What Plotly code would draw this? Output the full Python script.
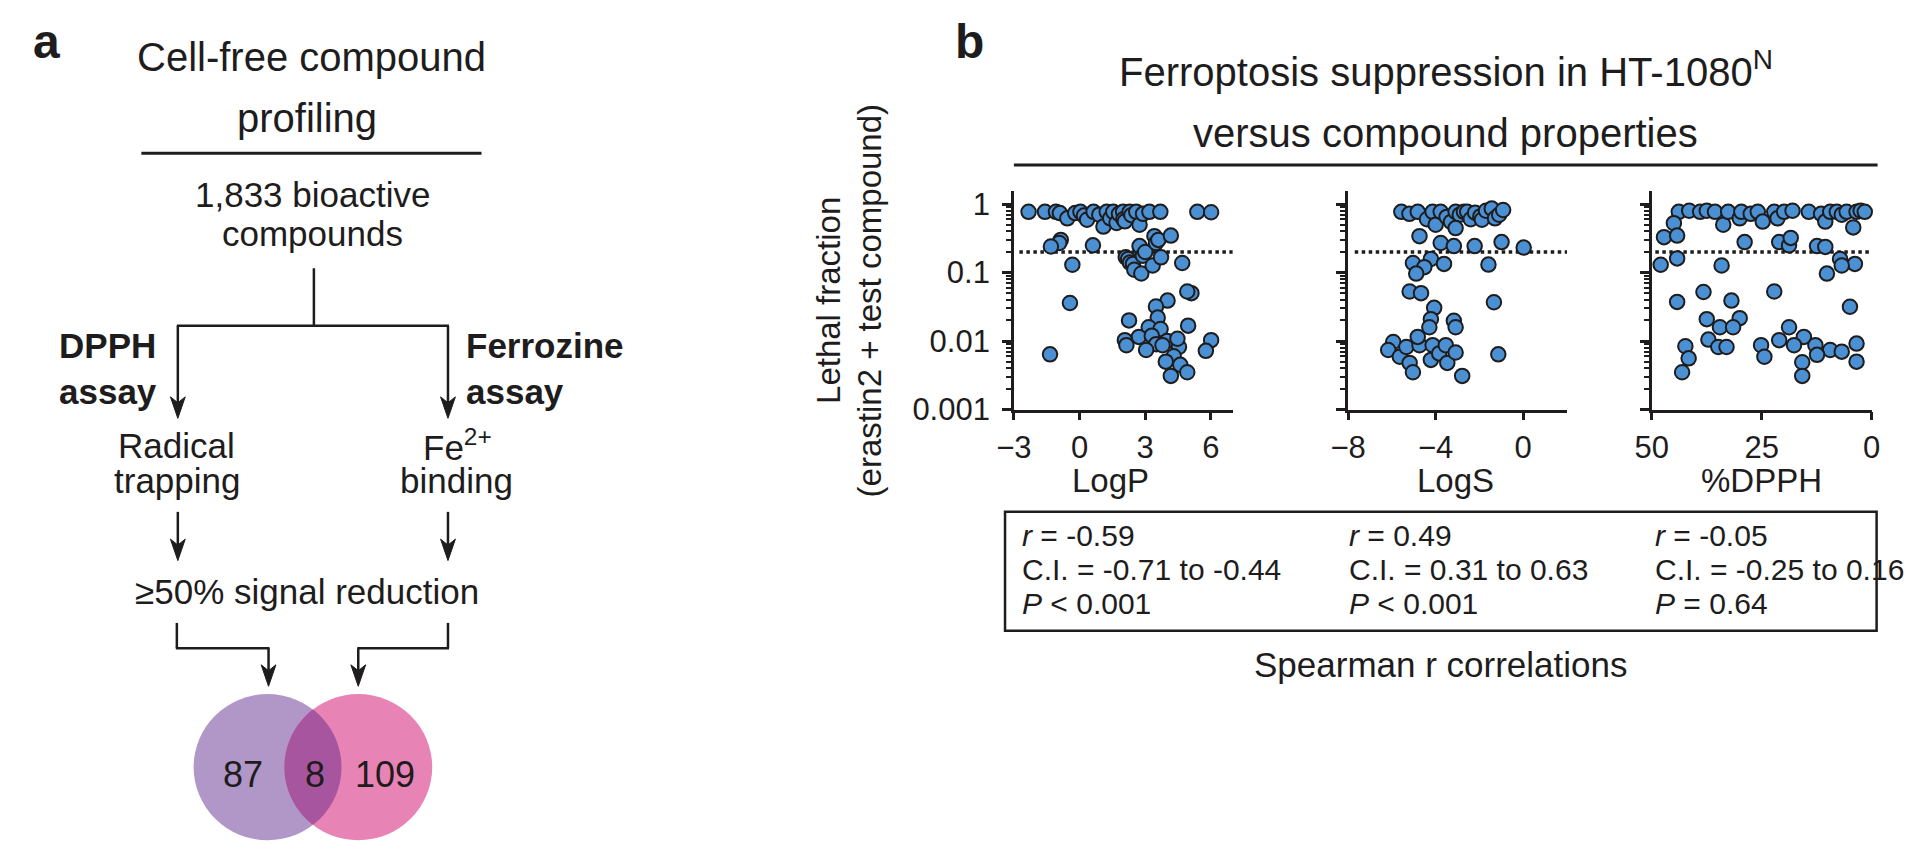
import numpy as np
import plotly.graph_objects as go

W, H = 1920, 859
INK = "#1e1c1d"
BLUE = "#4a90d2"
FONT = "Liberation Sans, Arial, Helvetica, sans-serif"

# ---------------- data ----------------
logp_x = [-2.33, -1.58, -1.08, -0.90, -0.56, -0.20, 0.04, 0.20, 0.34, 0.64, 0.90, 1.09, 1.24, 1.40,
          1.54, 1.69, 1.80, 1.99, 2.00, 2.07, 2.29, 2.37, 2.59, 2.74, 2.90, 3.19, 3.69, 5.38, 6.01,
          -0.86, -0.93, -1.31, 0.61, -0.33, -0.44, -1.35, 2.11, 2.22, 2.30, 2.44, 2.50, 2.74, 2.82,
          2.89, 3.00, 3.34, 3.42, 3.49, 3.60, 3.72, 4.17, 4.69,
          4.02, 3.49, 3.57, 2.26, 3.16, 3.70, 4.96, 5.11, 4.92, 2.71, 3.30, 2.07, 4.00, 2.14, 3.50,
          3.04, 3.79, 4.54, 4.47, 4.30, 3.94, 4.60, 4.17, 4.92, 6.01, 5.77]
logp_y = [0.77, 0.77, 0.77, 0.74, 0.62, 0.74, 0.77, 0.68, 0.59, 0.77, 0.70, 0.47, 0.77, 0.62,
          0.77, 0.53, 0.72, 0.77, 0.60, 0.56, 0.77, 0.69, 0.77, 0.50, 0.72, 0.77, 0.77, 0.77, 0.76,
          0.30, 0.27, 0.24, 0.25, 0.13, 0.036, 0.0064, 0.167, 0.158, 0.14, 0.134, 0.11, 0.244, 0.097,
          0.176, 0.20, 0.127, 0.34, 0.27, 0.30, 0.167, 0.347, 0.138,
          0.039, 0.032, 0.022, 0.020, 0.0159, 0.015, 0.0168, 0.050, 0.053, 0.0115, 0.012, 0.0103, 0.010, 0.0087, 0.009,
          0.0074, 0.0087, 0.0082, 0.0108, 0.006, 0.0050, 0.0045, 0.0031, 0.0035, 0.0103, 0.0072]

logs_x = [-5.57, -5.20, -4.82, -4.40, -4.14, -4.00, -3.77, -3.50, -3.30, -3.09, -2.90, -2.71, -2.56,
          -2.40, -2.20, -1.96, -1.89, -1.70, -1.44, -1.29, -1.10, -0.92, -4.74, -3.09, -3.77, -3.17,
          -2.22, -0.99, 0.02,
          -4.22, -5.04, -3.62, -4.52, -4.89, -1.59, -1.34, -1.14,
          -5.19, -4.67, -4.07, -4.22, -4.29, -3.17, -3.09, -5.94, -6.17, -5.64, -5.34, -5.19, -5.04,
          -4.74, -4.82, -4.14, -4.22, -3.84, -3.54, -3.47, -3.09, -2.79]
logs_y = [0.77, 0.72, 0.77, 0.60, 0.77, 0.50, 0.77, 0.65, 0.55, 0.77, 0.70, 0.77, 0.77,
          0.60, 0.75, 0.66, 0.59, 0.80, 0.86, 0.62, 0.70, 0.82, 0.34, 0.447, 0.27, 0.244,
          0.244, 0.279, 0.232,
          0.158, 0.138, 0.134, 0.12, 0.0966, 0.131, 0.0369, 0.0064,
          0.053, 0.050, 0.0306, 0.0209, 0.0159, 0.0198, 0.0159, 0.0097, 0.0074, 0.0059, 0.0082, 0.0048, 0.0035,
          0.0087, 0.0115, 0.0087, 0.0053, 0.0066, 0.0087, 0.0048, 0.0068, 0.0031]

dpph_x = [43.86, 41.5, 39.0, 37.5, 35.63, 33.76, 32.63, 30.01, 29.64, 27.5, 25.90, 24.78, 22.16, 21.41,
          19.91, 18.0, 14.30, 11.5, 10.55, 9.43, 7.93, 6.8, 5.69, 4.19, 3.44, 2.5, 1.57, 44.98,
          47.23, 44.24, 28.89, 21.03, 18.79, 18.41, 12.43, 10.55, 44.24, 47.98, 34.13, 7.19, 3.82, 10.18, 6.81,
          38.25, 22.16, 44.24, 31.89, 4.94, 37.50, 30.01, 34.51, 31.51, 37.13, 34.88, 33.01, 18.79, 21.03,
          25.15, 24.40, 15.42, 17.66, 12.80, 9.43, 6.81, 3.44, 3.44, 12.43, 15.79, 15.79, 42.37, 41.62, 43.11]
dpph_y = [0.77, 0.80, 0.77, 0.80, 0.77, 0.50, 0.77, 0.62, 0.77, 0.72, 0.77, 0.555, 0.77, 0.62,
          0.77, 0.80, 0.77, 0.72, 0.555, 0.77, 0.77, 0.70, 0.77, 0.456, 0.77, 0.80, 0.77, 0.526,
          0.329, 0.347, 0.279, 0.279, 0.250, 0.321, 0.244, 0.237, 0.161, 0.130, 0.127, 0.158, 0.134, 0.0966, 0.127,
          0.052, 0.053, 0.0373, 0.039, 0.0317, 0.0209, 0.0216, 0.0159, 0.0159, 0.0105, 0.0082, 0.0082, 0.0159, 0.0103,
          0.0087, 0.0059, 0.0115, 0.0087, 0.0087, 0.0074, 0.0070, 0.0092, 0.0050, 0.0063, 0.0049, 0.0031, 0.0084, 0.0056, 0.0035]

threshold = 0.2
logp_ticks = [-3, 0, 3, 6]
logs_ticks = [-8, -4, 0]
dpph_ticks = [50, 25, 0]
y_ticks = [0.001, 0.01, 0.1, 1]
y_ticklabels = ["0.001", "0.01", "0.1", "1"]
x_titles = ["LogP", "LogS", "%DPPH"]

stat_r = ["-0.59", "0.49", "-0.05"]
stat_ci = ["-0.71 to -0.44", "0.31 to 0.63", "-0.25 to 0.16"]
stat_p = ["&lt; 0.001", "&lt; 0.001", "= 0.64"]

venn_counts = ["87", "8", "109"]


# ---------------- helpers (pixel -> paper) ----------------
def X(px):
    return px / W


def Y(py):
    return 1 - py / H


annotations = []
shapes = []


def text(px, baseline, s, size, bold=False, anchor="center", angle=0, center=None, align="center"):
    cy = baseline - 0.35 * size if center is None else center
    annotations.append(dict(
        x=X(px), y=Y(cy), xref="paper", yref="paper", text=("<b>%s</b>" % s) if bold else s,
        showarrow=False, xanchor=anchor, yanchor="middle", textangle=angle, align=align,
        font=dict(size=size, color=INK, family=FONT)))


def line(x0, y0, x1, y1, w=2.5):
    shapes.append(dict(type="line", xref="paper", yref="paper", x0=X(x0), y0=Y(y0), x1=X(x1), y1=Y(y1),
                       line=dict(color=INK, width=w)))


def arrow_down(px, top, tip, w=2.5):
    head = 22
    half = 7.5
    line(px, top, px, tip - head + 6, w)
    path = "M %f %f L %f %f L %f %f L %f %f Z" % (
        X(px), Y(tip), X(px - half), Y(tip - head), X(px), Y(tip - head + 6), X(px + half), Y(tip - head))
    shapes.append(dict(type="path", xref="paper", yref="paper", path=path, fillcolor=INK,
                       line=dict(color=INK, width=1)))


# ---------------- panel a ----------------
text(21, 47, "a", 48, bold=True)
text(290, 60, "Cell-free compound", 40)
text(285, 123, "profiling", 40)
line(117, 145, 462, 145, 3)
text(291, 200, "1,833 bioactive", 35)
text(291, 240, "compounds", 35)
line(292, 263, 292, 322)
line(153, 322, 429, 322)
arrow_down(154, 322, 417)
arrow_down(428, 322, 417)
text(135, 0, "DPPH<br>assay", 35, bold=True, anchor="right", align="right", center=366)
text(444, 0, "Ferrozine<br>assay", 35, bold=True, anchor="left", align="left", center=366)
text(153, 457, "Radical", 35)
text(153, 493, "trapping", 35)
text(438, 457, "Fe<sup>2+</sup>", 35)
text(437, 493, "binding", 35)
arrow_down(154, 513, 563)
arrow_down(428, 513, 563)
text(285, 607, "≥50% signal reduction", 35)
line(153, 627, 153, 653)
line(152, 653, 247, 653)
arrow_down(246, 653, 692)
line(428, 627, 428, 653)
line(429, 653, 336, 653)
arrow_down(337, 653, 692)

# Venn
c1, c2, cy, R = 245.0, 337.0, 775.0, 75.0
shapes.append(dict(type="circle", xref="paper", yref="paper", x0=X(c1 - R), x1=X(c1 + R), y0=Y(cy + R),
                   y1=Y(cy - R), fillcolor="#b197c8", line=dict(width=0), layer="above"))
shapes.append(dict(type="circle", xref="paper", yref="paper", x0=X(c2 - R), x1=X(c2 + R), y0=Y(cy + R),
                   y1=Y(cy - R), fillcolor="#e883b5", line=dict(width=0), layer="above"))
d = c2 - c1
ang = np.degrees(np.arccos((d / 2) / R))
t_right = np.radians(np.linspace(180 - ang, 180 + ang, 60))   # arc of right circle (left side of lens)
t_left = np.radians(np.linspace(ang, -ang, 60))                # arc of left circle (right side of lens)
pts = [(c2 + R * np.cos(t), cy - R * np.sin(t)) for t in t_right] + \
      [(c1 + R * np.cos(t), cy - R * np.sin(t)) for t in t_left]
lens = "M " + " L ".join("%f %f" % (X(px), Y(py)) for px, py in pts) + " Z"
shapes.append(dict(type="path", xref="paper", yref="paper", path=lens, fillcolor="#a8559f",
                   line=dict(width=0), layer="above"))
text(220, 795, venn_counts[0], 36)
text(293, 795, venn_counts[1], 36)
text(364, 795, venn_counts[2], 36)

# ---------------- panel b ----------------
text(957, 47, "b", 48, bold=True)
text(1440, 73, "Ferroptosis suppression in HT-1080<sup>N</sup>", 40)
text(1440, 138, "versus compound properties", 40)
line(1002, 157, 1878, 157, 3)

text(0, 0, "Lethal fraction", 33, angle=-90, center=296)
annotations[-1]["x"] = X(814)
text(0, 0, "(erastin2 + test compound)", 33, angle=-90, center=296)
annotations[-1]["x"] = X(855)

fig = go.Figure()

panels = [
    ("x", "y", logp_x, logp_y, [-3, 7], logp_ticks, (1002, 1224), [-2.75, 7]),
    ("x2", "y2", logs_x, logs_y, [-8, 2], logs_ticks, (1341, 1563), [-7.7, 2]),
    ("x3", "y3", dpph_x, dpph_y, [50, 0], dpph_ticks, (1649, 1872), [49.2, 0]),
]
y_top, y_bot = 184, 408
minor_vals = [k * 10.0 ** e for e in (-3, -2, -1) for k in range(2, 10)]

for i, (xa, ya, xs, ys, xr, xt, (p0, p1), thr_x) in enumerate(panels):
    fig.add_trace(go.Scatter(x=thr_x, y=[threshold, threshold], mode="lines", xaxis=xa, yaxis=ya,
                             line=dict(color=INK, width=3.5, dash="3.5px,3.5px"), hoverinfo="skip"))
    fig.add_trace(go.Scatter(x=xs, y=ys, mode="markers", xaxis=xa, yaxis=ya, cliponaxis=False,
                             marker=dict(size=14.5, color=BLUE, line=dict(color=INK, width=2))))
    sfx = "" if i == 0 else str(i + 1)
    fig.update_layout(**{
        "xaxis" + sfx: dict(domain=[X(p0), X(p1)], range=xr, anchor=ya, tickvals=xt,
                            showline=True, linecolor=INK, linewidth=2.5, ticks="outside", ticklen=8,
                            tickwidth=2.5, tickcolor=INK, showgrid=False, zeroline=False,
                            tickfont=dict(size=31, color=INK, family=FONT)),
        "yaxis" + sfx: dict(domain=[Y(y_bot), Y(y_top)], type="log", range=[-3, 0.187], anchor=xa,
                            tickvals=y_ticks, ticktext=y_ticklabels, showticklabels=(i == 0),
                            showline=True, linecolor=INK, linewidth=2.5, ticks="outside", ticklen=9,
                            tickwidth=2.5, tickcolor=INK, showgrid=False, zeroline=False,
                            ticklabelstandoff=6,
                            tickfont=dict(size=31, color=INK, family=FONT),
                            minor=dict(tickvals=minor_vals, ticks="outside", ticklen=5, tickwidth=1.5,
                                       tickcolor=INK, showgrid=False)),
    })

title_x = [1100, 1450, 1760]
for tx, tt in zip(title_x, x_titles):
    text(tx, 492, tt, 33)

# stats box
shapes.append(dict(type="rect", xref="paper", yref="paper", x0=X(993), x1=X(1877), y0=Y(635), y1=Y(513),
                   line=dict(color=INK, width=2.5), fillcolor="rgba(0,0,0,0)"))
col_x = [1008, 1340, 1650]
for cx, r, ci, p in zip(col_x, stat_r, stat_ci, stat_p):
    text(cx, 548, "<i>r</i> = " + r, 30, anchor="left")
    text(cx, 583, "C.I. = " + ci, 30, anchor="left")
    text(cx, 618, "<i>P</i> " + p, 30, anchor="left")
text(1435, 682, "Spearman r correlations", 35)

fig.update_layout(width=W, height=H, margin=dict(l=0, r=0, t=0, b=0), paper_bgcolor="white",
                  plot_bgcolor="white", showlegend=False, annotations=annotations, shapes=shapes,
                  font=dict(family=FONT, color=INK))
fig.write_html("out.html")
